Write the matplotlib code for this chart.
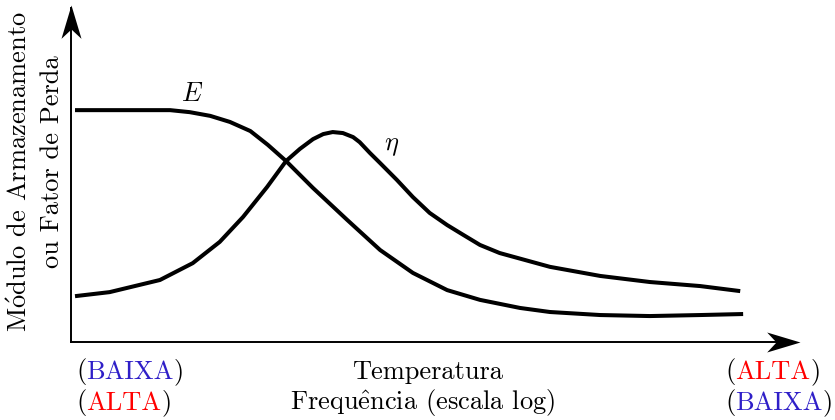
"""
Módulo de armazenamento / fator de perda vs temperatura-frequência
"""

import matplotlib
matplotlib.use("Agg")
import matplotlib.pyplot as plt

plt.rcParams["font.family"] = ["cmr10", "DejaVu Serif"]
plt.rcParams["mathtext.fontset"] = "cm"

# courbes (unités arbitraires, 0..10)
e_x = [0.055, 0.67, 1.36, 1.63, 1.91, 2.18, 2.46, 2.70, 2.95, 3.32,
       3.79, 4.24, 4.69, 5.16, 5.61, 6.16, 6.57, 7.26, 7.94, 8.63, 9.22]
e_y = [6.88, 6.88, 6.88, 6.82, 6.71, 6.53, 6.26, 5.85, 5.37, 4.57,
       3.62, 2.73, 2.05, 1.54, 1.25, 1.01, 0.89, 0.80, 0.77, 0.80, 0.83]

eta_x = [0.055, 0.53, 1.22, 1.67, 2.04, 2.36, 2.69, 2.95, 3.14, 3.32,
         3.46, 3.59, 3.73, 3.87, 3.96, 4.10, 4.24, 4.47, 4.69, 4.92,
         5.16, 5.38, 5.61, 5.88, 6.57, 7.26, 7.94, 8.63, 9.18]
eta_y = [1.36, 1.48, 1.84, 2.34, 2.97, 3.71, 4.60, 5.37, 5.73, 6.02,
         6.17, 6.23, 6.20, 6.08, 5.93, 5.61, 5.31, 4.81, 4.30, 3.83,
         3.47, 3.18, 2.88, 2.64, 2.23, 1.96, 1.78, 1.66, 1.51]

BLUE = "#2f1fc8"
RED = "#ff0000"

W, H = 835, 420
fig = plt.figure(figsize=(W / 100, H / 100), dpi=100)
ax = fig.add_axes([71 / W, (H - 342) / H, (800 - 71) / W, (342 - 5) / H])
ax.set_xlim(0, 10)
ax.set_ylim(0, 10)
ax.axis("off")

# axes avec flèches
head_x = [(0, 0), (-1, 0.3), (-0.72, 0), (-1, -0.3)]
head_y = [(0, 0), (0.3, -1), (0, -0.72), (-0.3, -1)]
ax.plot([0, 9.9], [0, 0], color="black", lw=1.4, clip_on=False)
ax.plot([0, 0], [0, 9.9], color="black", lw=1.4, clip_on=False)
ax.plot(10, 0, marker=head_x, ms=48, color="black", mec="none", clip_on=False)
ax.plot(0, 10, marker=head_y, ms=48, color="black", mec="none", clip_on=False)

ax.plot(e_x, e_y, color="black", lw=2.9, solid_joinstyle="round",
        solid_capstyle="butt", clip_on=False)
ax.plot(eta_x, eta_y, color="black", lw=2.9, solid_joinstyle="round",
        solid_capstyle="butt", clip_on=False)

ax.text(1.66, 7.35, r"$E$", fontsize=19, ha="center", va="center")
ax.text(4.40, 5.82, r"$\eta$", fontsize=19, ha="center", va="center")

fs = 19
def ftxt(x, y, s, **kw):
    fig.text(x / W, 1 - y / H, s, fontsize=fs, va="center", **kw)

# étiquette verticale
ftxt(20, 172, r"M$\mathrm{\acute{o}}$dulo de Armazenamento", rotation=90, ha="center")
ftxt(52, 162, "ou Fator de Perda", rotation=90, ha="center")

# étiquettes horizontales
ftxt(428, 372, "Temperatura", ha="center")
ftxt(423, 403, r"Frequ$\mathrm{\hat{e}}$ncia (escala log)", ha="center")

def colored(x, y, word, color):
    t1 = fig.text(x / W, 1 - y / H, "(", fontsize=fs, va="center")
    fig.canvas.draw()
    r = fig.canvas.get_renderer()
    bb = t1.get_window_extent(r)
    t2 = fig.text(bb.x1 / W, 1 - y / H, word, fontsize=fs, va="center", color=color)
    bb2 = t2.get_window_extent(r)
    fig.text(bb2.x1 / W, 1 - y / H, ")", fontsize=fs, va="center")

colored(76, 372, "BAIXA", BLUE)
colored(76, 403, "ALTA", RED)
colored(725, 372, "ALTA", RED)
colored(725, 403, "BAIXA", BLUE)

fig.savefig("out.png", dpi=100, facecolor="white")
